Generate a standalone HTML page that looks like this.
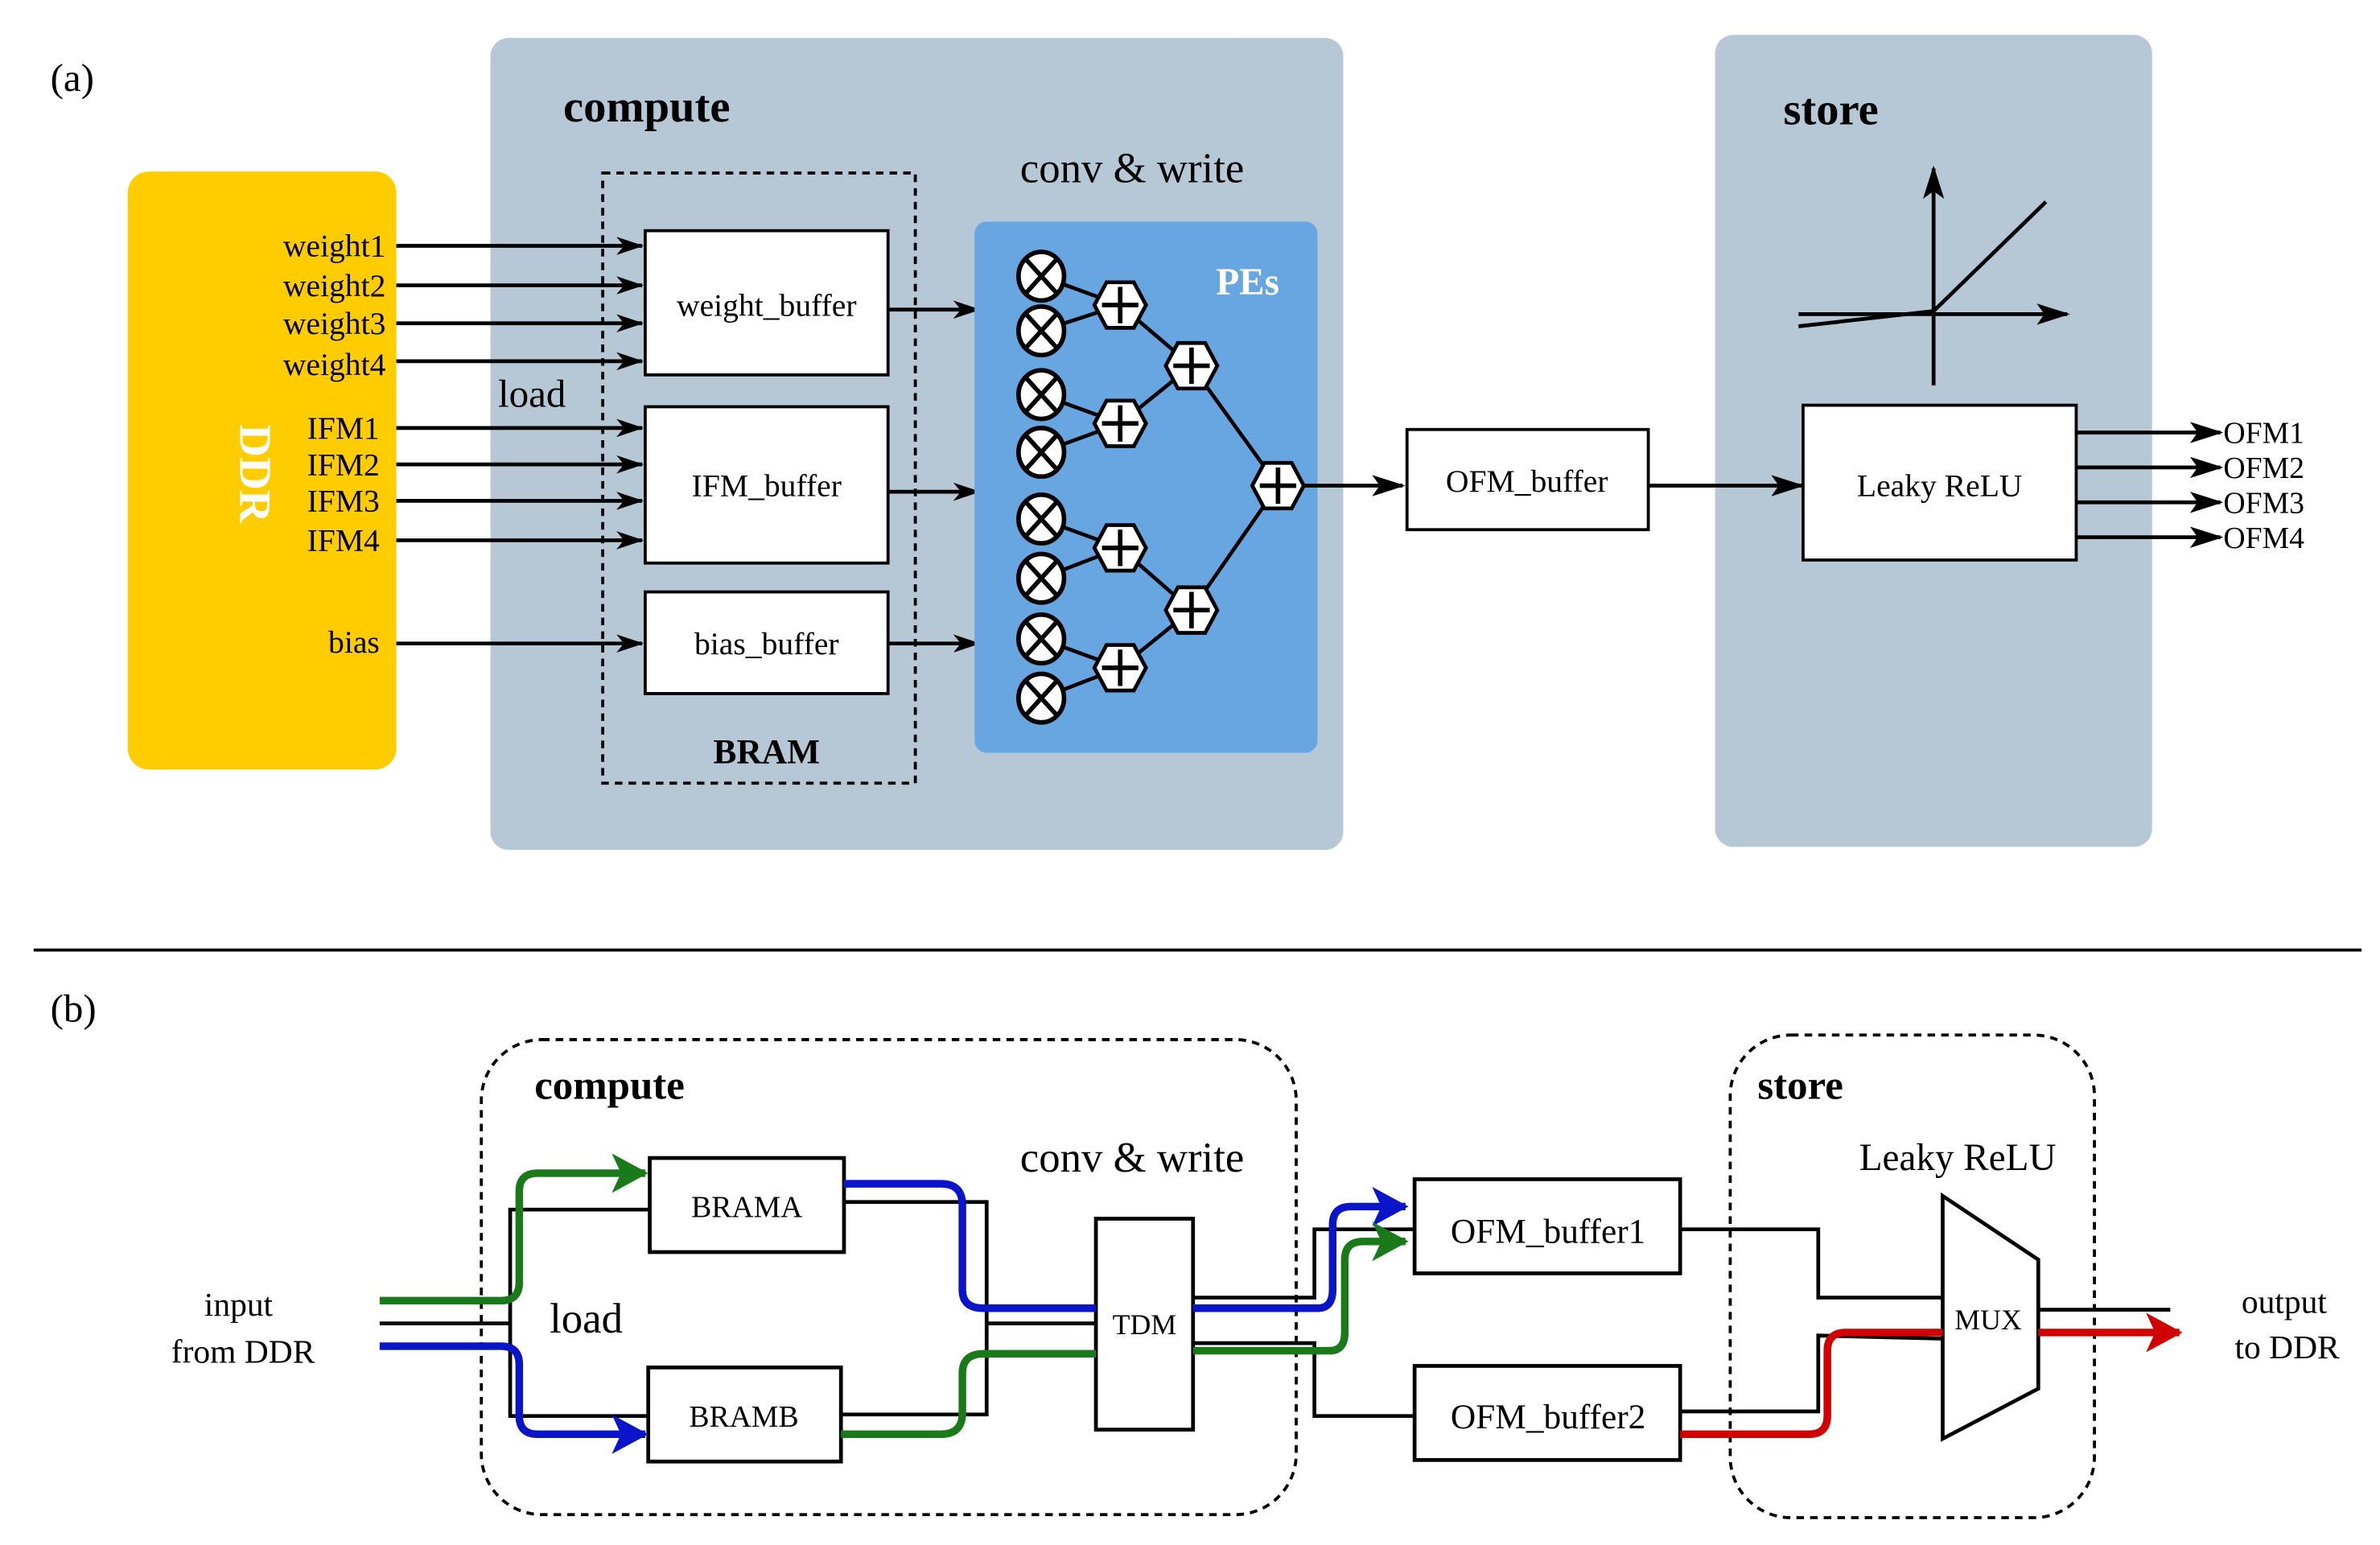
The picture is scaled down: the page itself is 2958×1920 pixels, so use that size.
<!DOCTYPE html>
<html><head><meta charset="utf-8"><style>html,body{margin:0;padding:0;background:#fff}svg{display:block}svg text{font-family:"Liberation Serif","DejaVu Serif",serif}</style></head><body>
<svg width="2958" height="1920" viewBox="0 0 1568 1018" xmlns="http://www.w3.org/2000/svg" style="font-family:'Liberation Serif',serif">
<defs>
<marker id="ah" markerWidth="18" markerHeight="12" refX="17" refY="6" orient="auto" markerUnits="userSpaceOnUse"><path d="M0,0 L18,6 L0,12 L5,6z" fill="#000"/></marker>
<marker id="ahL" markerWidth="22" markerHeight="14" refX="20" refY="7" orient="auto" markerUnits="userSpaceOnUse"><path d="M0,0 L22,7 L0,14 L5,7z" fill="#000"/></marker>
<marker id="ahG" markerWidth="26" markerHeight="26" refX="22" refY="13" orient="auto" markerUnits="userSpaceOnUse"><path d="M0,0 L24,13 L0,26 L6,13z" fill="#1a7a1a"/></marker>
<marker id="ahB" markerWidth="26" markerHeight="26" refX="22" refY="13" orient="auto" markerUnits="userSpaceOnUse"><path d="M0,0 L24,13 L0,26 L6,13z" fill="#0a14c8"/></marker>
<marker id="ahR" markerWidth="26" markerHeight="26" refX="22" refY="13" orient="auto" markerUnits="userSpaceOnUse"><path d="M0,0 L24,13 L0,26 L6,13z" fill="#d00000"/></marker>
<g id="mul"><ellipse cx="0" cy="0" rx="15" ry="16" fill="#fff" stroke="#000" stroke-width="3"/><path d="M-10,-11 L10,11 M10,-11 L-10,11" stroke="#000" stroke-width="3"/></g>
<g id="add"><path d="M-17,0 L-9,-15 L9,-15 L17,0 L9,15 L-9,15z" fill="#fff" stroke="#000" stroke-width="2.5"/><path d="M-12,0 L12,0 M0,-12 L0,12" stroke="#000" stroke-width="3"/></g>
</defs>
<rect width="1568" height="1018" fill="#fff"/>
<!-- (a) -->
<text x="33" y="60" font-size="26">(a)</text>
<rect x="323" y="25" width="562" height="535" rx="12" fill="#b6c8d5"/>
<rect x="1130" y="23" width="288" height="535" rx="12" fill="#b6c8d5"/>
<rect x="84" y="113" width="177" height="394" rx="14" fill="#ffcc00"/>
<text x="0" y="0" font-size="30" font-weight="bold" fill="#fff" transform="translate(158,312) rotate(90)" text-anchor="middle">DDR</text>
<text x="371" y="80" font-size="30" font-weight="bold">compute</text>
<text x="1175" y="82" font-size="30" font-weight="bold">store</text>
<text x="672" y="120" font-size="28">conv &amp; write</text>
<g font-size="21" text-anchor="end">
<text x="254" y="169">weight1</text><text x="254" y="195">weight2</text><text x="254" y="220">weight3</text><text x="254" y="247">weight4</text>
<text x="250" y="289">IFM1</text><text x="250" y="313">IFM2</text><text x="250" y="337">IFM3</text><text x="250" y="363">IFM4</text>
<text x="250" y="430">bias</text>
</g>
<g stroke="#000" stroke-width="2.5" marker-end="url(#ah)">
<line x1="261" y1="162" x2="423" y2="162"/><line x1="261" y1="188" x2="423" y2="188"/><line x1="261" y1="213" x2="423" y2="213"/><line x1="261" y1="238" x2="423" y2="238"/>
<line x1="261" y1="282" x2="423" y2="282"/><line x1="261" y1="306" x2="423" y2="306"/><line x1="261" y1="330" x2="423" y2="330"/><line x1="261" y1="356" x2="423" y2="356"/>
<line x1="261" y1="424" x2="423" y2="424"/>
<line x1="585" y1="204" x2="645" y2="204"/><line x1="585" y1="324" x2="645" y2="324"/><line x1="585" y1="424" x2="645" y2="424"/>
</g>
<rect x="397" y="114" width="206" height="402" fill="none" stroke="#000" stroke-width="2" stroke-dasharray="5,4"/>
<text x="505" y="503" font-size="23" font-weight="bold" text-anchor="middle">BRAM</text>
<text x="328" y="268" font-size="26">load</text>
<g fill="#fff" stroke="#000" stroke-width="2">
<rect x="425" y="152" width="160" height="95"/><rect x="425" y="268" width="160" height="103"/><rect x="425" y="390" width="160" height="67"/>
<rect x="927" y="283" width="159" height="66"/><rect x="1188" y="267" width="180" height="102"/>
</g>
<g font-size="21" text-anchor="middle">
<text x="505" y="208">weight_buffer</text><text x="505" y="327">IFM_buffer</text><text x="505" y="431">bias_buffer</text>
<text x="1006" y="324">OFM_buffer</text><text x="1278" y="327">Leaky ReLU</text>
</g>
<rect x="642" y="146" width="226" height="350" rx="8" fill="#68a6e2"/>
<text x="822" y="194" font-size="25" font-weight="bold" fill="#fff" text-anchor="middle">PEs</text>
<g stroke="#000" stroke-width="2.5" fill="none">
<path d="M686,182 L738,201 L686,218 M686,260 L738,279 L686,298 M686,342 L738,361 L686,381 M686,421 L738,440 L686,460"/>
<path d="M738,201 L785,241 L738,279 M738,361 L785,402 L738,440 M785,241 L842,320 L785,402"/>
</g>
<use href="#mul" x="686" y="182"/><use href="#mul" x="686" y="218"/><use href="#mul" x="686" y="260"/><use href="#mul" x="686" y="298"/>
<use href="#mul" x="686" y="342"/><use href="#mul" x="686" y="381"/><use href="#mul" x="686" y="421"/><use href="#mul" x="686" y="460"/>
<use href="#add" x="738" y="201"/><use href="#add" x="738" y="279"/><use href="#add" x="738" y="361"/><use href="#add" x="738" y="440"/>
<use href="#add" x="785" y="241"/><use href="#add" x="785" y="402"/><use href="#add" x="842" y="320"/>
<g stroke="#000" stroke-width="2.5">
<line x1="859" y1="320" x2="924" y2="320" marker-end="url(#ahL)"/>
<line x1="1086" y1="320" x2="1187" y2="320" marker-end="url(#ahL)"/>
<line x1="1368" y1="285" x2="1463" y2="285" marker-end="url(#ahL)"/>
<line x1="1368" y1="308" x2="1463" y2="308" marker-end="url(#ahL)"/>
<line x1="1368" y1="331" x2="1463" y2="331" marker-end="url(#ahL)"/>
<line x1="1368" y1="354" x2="1463" y2="354" marker-end="url(#ahL)"/>
<line x1="1274" y1="254" x2="1274" y2="111" marker-end="url(#ahL)"/>
<line x1="1185" y1="207" x2="1362" y2="207" marker-end="url(#ahL)"/>
<polyline points="1185,215 1274,205 1348,133" fill="none"/>
</g>
<g font-size="20"><text x="1465" y="292">OFM1</text><text x="1465" y="315">OFM2</text><text x="1465" y="338">OFM3</text><text x="1465" y="361">OFM4</text></g>
<line x1="22" y1="626" x2="1556" y2="626" stroke="#000" stroke-width="2"/>
<!-- (b) -->
<text x="33" y="673" font-size="26">(b)</text>
<rect x="317" y="685" width="537" height="313" rx="40" fill="none" stroke="#000" stroke-width="2" stroke-dasharray="5,4"/>
<rect x="1140" y="682" width="240" height="318" rx="40" fill="none" stroke="#000" stroke-width="2" stroke-dasharray="5,4"/>
<text x="352" y="724" font-size="27" font-weight="bold">compute</text>
<text x="1158" y="724" font-size="27" font-weight="bold">store</text>
<text x="672" y="772" font-size="28">conv &amp; write</text>
<text x="1225" y="771" font-size="25">Leaky ReLU</text>
<text x="362" y="878" font-size="28">load</text>
<text x="157" y="867" font-size="22" text-anchor="middle">input</text>
<text x="160" y="898" font-size="22" text-anchor="middle">from DDR</text>
<text x="1505" y="865" font-size="22" text-anchor="middle">output</text>
<text x="1507" y="895" font-size="22" text-anchor="middle">to DDR</text>
<g fill="none" stroke="#000" stroke-width="2.5">
<polyline points="250,872 336,872"/>
<polyline points="428,797 336,797 336,933 427,933"/>
<polyline points="556,792 650,792 650,932 554,932"/>
<line x1="650" y1="872" x2="722" y2="872"/>
<polyline points="786,855 866,855 866,810 932,810"/>
<polyline points="786,885 866,885 866,933 932,933"/>
<polyline points="1107,810 1198,810 1198,855 1280,855"/>
<polyline points="1107,930 1198,930 1198,880 1280,882"/>
<line x1="1343" y1="863" x2="1430" y2="863"/>
<polygon points="1280,788 1343,830 1343,915 1280,948" fill="#fff"/>
</g>
<g fill="#fff" stroke="#000" stroke-width="2.5">
<rect x="428" y="763" width="128" height="62"/><rect x="427" y="901" width="127" height="62"/>
<rect x="722" y="803" width="64" height="139"/>
<rect x="932" y="777" width="175" height="62"/><rect x="932" y="900" width="175" height="62"/>
</g>
<g fill="none" stroke-width="5">
<path d="M250,857 L330,857 Q342,857 342,845 L342,785 Q342,773 354,773 L425,773" stroke="#1a7a1a" marker-end="url(#ahG)"/>
<path d="M250,887 L330,887 Q342,887 342,899 L342,933 Q342,945 354,945 L425,945" stroke="#0a14c8" marker-end="url(#ahB)"/>
<path d="M556,780 L620,780 Q634,780 634,794 L634,850 Q634,862 648,862 L722,862" stroke="#0a14c8"/>
<path d="M554,945 L620,945 Q634,945 634,931 L634,905 Q634,892 648,892 L722,892" stroke="#1a7a1a"/>
<path d="M786,862 L868,862 Q878,862 878,850 L878,807 Q878,795 890,795 L926,795" stroke="#0a14c8" marker-end="url(#ahB)"/>
<path d="M786,890 L876,890 Q886,890 886,878 L886,830 Q886,818 898,818 L926,818" stroke="#1a7a1a" marker-end="url(#ahG)"/>
<path d="M1107,945 L1192,945 Q1204,945 1204,933 L1204,890 Q1204,878 1216,878 L1280,878" stroke="#d00000"/>
<line x1="1343" y1="878" x2="1436" y2="878" stroke="#d00000" marker-end="url(#ahR)"/>
</g>
<g font-size="20" text-anchor="middle">
<text x="492" y="802">BRAMA</text><text x="490" y="940">BRAMB</text>
<text x="754" y="879" font-size="19">TDM</text>
<text x="1020" y="819" font-size="23">OFM_buffer1</text><text x="1020" y="941" font-size="23">OFM_buffer2</text>
<text x="1310" y="876" font-size="19">MUX</text>
</g>
</svg>
</body></html>
